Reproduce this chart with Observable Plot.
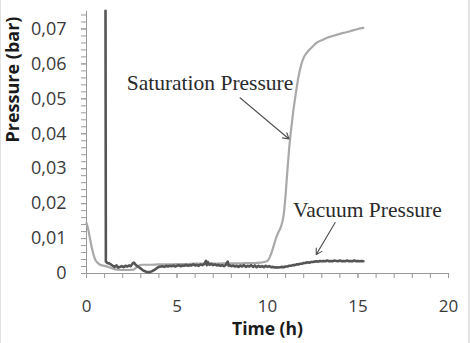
<!DOCTYPE html>
<html>
<head>
<meta charset="utf-8">
<script src="https://cdn.jsdelivr.net/npm/d3@7"></script>
<script src="https://cdn.jsdelivr.net/npm/@observablehq/plot@0.6"></script>
<style>
  html, body { margin: 0; padding: 0; background: #fff; }
  #wrap { position: relative; width: 470px; height: 343px; box-shadow: inset 1px 0 #e2e2e2, inset -2px 0 #e2e2e2; }
</style>
</head>
<body>
<div id="wrap"></div>
<script>
// Saturation pressure (light gray curve)
const satTime = [0,0.1,0.2,0.3,0.4,0.5,0.65,0.8,1.0,1.2,1.4,1.6,1.8,2.0,2.3,2.6,2.75,2.9,3.1,3.5,4,4.5,5,5.5,6,6.5,7,7.5,8,8.5,9,9.3,9.6,9.8,10.0,10.15,10.3,10.45,10.6,10.75,10.9,11.0,11.1,11.2,11.3,11.4,11.55,11.7,11.85,12.0,12.25,12.5,12.7,13.0,13.3,13.6,14.0,14.3,14.6,15.0,15.3];
const satPressure = [0.0145,0.0125,0.0098,0.0072,0.0052,0.0038,0.0029,0.0024,0.0022,0.0019,0.0015,0.0012,0.0011,0.0010,0.0010,0.0011,0.0017,0.0023,0.0025,0.0025,0.0026,0.0026,0.0027,0.0027,0.0028,0.0028,0.0028,0.0029,0.0029,0.0029,0.0030,0.0030,0.0031,0.0033,0.0036,0.0050,0.0072,0.0098,0.0118,0.0135,0.0170,0.0225,0.0295,0.0360,0.0410,0.0455,0.0510,0.0560,0.0595,0.0618,0.0637,0.0650,0.0660,0.0668,0.0675,0.0680,0.0686,0.0690,0.0694,0.0700,0.0703];

// Vacuum pressure (dark gray noisy curve, with the spike at start)
const vacTime = [1.05,1.07,1.15,1.25,1.35,1.45,1.55,1.65,1.75,1.85,1.95,2.05,2.15,2.25,2.35,2.45,2.55,2.62,2.7,2.8,2.9,3.0,3.1,3.2,3.3,3.4,3.5,3.6,3.7,3.8,3.9,4.0,4.1,4.2,4.3,4.4,4.5,4.6,4.7,4.8,4.9,5.0,5.1,5.2,5.3,5.4,5.5,5.6,5.7,5.8,5.9,6.0,6.1,6.2,6.3,6.4,6.5,6.6,6.65,6.7,6.8,6.9,7.0,7.1,7.2,7.3,7.4,7.5,7.6,7.7,7.8,7.85,7.9,8.0,8.1,8.2,8.3,8.4,8.5,8.6,8.7,8.8,8.9,9.0,9.1,9.2,9.3,9.4,9.5,9.6,9.7,9.8,9.9,10.0,10.1,10.2,10.3,10.4,10.5,10.6,10.7,10.8,10.9,11.0,11.1,11.2,11.3,11.4,11.5,11.6,11.7,11.8,11.9,12.0,12.1,12.2,12.3,12.4,12.5,12.6,12.7,12.8,12.9,13.0,13.1,13.2,13.3,13.4,13.5,13.6,13.7,13.8,13.9,14.0,14.1,14.2,14.3,14.4,14.5,14.6,14.7,14.8,14.9,15.0,15.1,15.2,15.3];
const vacPressure = [0.0752,0.0034,0.0030,0.0029,0.0026,0.0022,0.0019,0.0023,0.0017,0.0019,0.0021,0.0018,0.0022,0.0020,0.0023,0.0021,0.0029,0.0031,0.0026,0.0021,0.0018,0.0014,0.0010,0.0007,0.0005,0.0004,0.0004,0.0006,0.0009,0.0012,0.0016,0.0019,0.0020,0.0021,0.0019,0.0022,0.0020,0.0022,0.0021,0.0023,0.0020,0.0022,0.0024,0.0021,0.0023,0.0022,0.0025,0.0022,0.0024,0.0023,0.0026,0.0023,0.0025,0.0022,0.0026,0.0024,0.0027,0.0036,0.0024,0.0033,0.0025,0.0028,0.0024,0.0026,0.0023,0.0025,0.0022,0.0024,0.0021,0.0025,0.0034,0.0022,0.0024,0.0021,0.0023,0.0020,0.0022,0.0019,0.0023,0.0020,0.0024,0.0019,0.0022,0.0020,0.0024,0.0019,0.0023,0.0018,0.0022,0.0019,0.0021,0.0018,0.0022,0.0019,0.0021,0.0018,0.0019,0.0017,0.0018,0.0017,0.0018,0.0019,0.0018,0.0020,0.0020,0.0022,0.0022,0.0024,0.0024,0.0026,0.0026,0.0028,0.0028,0.0030,0.0030,0.0032,0.0031,0.0033,0.0033,0.0034,0.0035,0.0034,0.0036,0.0035,0.0036,0.0035,0.0037,0.0035,0.0036,0.0035,0.0037,0.0036,0.0035,0.0037,0.0035,0.0036,0.0035,0.0037,0.0035,0.0036,0.0035,0.0037,0.0035,0.0036,0.0035,0.0036,0.0035];

// Axis ticks
const xMajorTicks = [0, 5, 10, 15, 20];
const xMinorTicks = [0,1,2,3,4,5,6,7,8,9,10,11,12,13,14,15,16,17,18,19,20];
const yMajorTicks = [0, 0.01, 0.02, 0.03, 0.04, 0.05, 0.06, 0.07];
const yMinorTicks = [0,0.002,0.004,0.006,0.008,0.010,0.012,0.014,0.016,0.018,0.020,0.022,0.024,0.026,0.028,0.030,0.032,0.034,0.036,0.038,0.040,0.042,0.044,0.046,0.048,0.050,0.052,0.054,0.056,0.058,0.060,0.062,0.064,0.066,0.068,0.070,0.072,0.074];

// Annotations (data units)
const labelText = ["Saturation Pressure", "Vacuum Pressure"];
const labelX = [2.22, 11.41];
const labelY = [0.0545, 0.0182];
const arrowX1 = [8.48, 13.74];
const arrowY1 = [0.0503, 0.0146];
const arrowX2 = [11.19, 12.69];
const arrowY2 = [0.0385, 0.0054];

const sat = satTime.map((t, i) => ({t, p: satPressure[i]}));
const vac = vacTime.map((t, i) => ({t, p: vacPressure[i]}));
const labels = labelText.map((text, i) => ({text, x: labelX[i], y: labelY[i]}));
const arrows = arrowX1.map((x1, i) => ({x1, y1: arrowY1[i], x2: arrowX2[i], y2: arrowY2[i]}));

const fmtY = d => d === 0 ? "0" : d.toFixed(2).replace(".", ",");
const axisFont = "'Open Sans', sans-serif";

const chart = Plot.plot({
  width: 470,
  height: 343,
  marginLeft: 86,
  marginRight: 22,
  marginTop: 11,
  marginBottom: 70,
  style: {background: "transparent", fontFamily: axisFont, overflow: "visible"},
  x: {domain: [0, 20], label: null},
  y: {domain: [0, 0.075], label: null},
  marks: [
    Plot.axisX({ticks: xMinorTicks, tickSize: 5, tickFormat: () => "", stroke: "#9a9a9a"}),
    Plot.axisX({ticks: xMajorTicks, tickSize: 5, tickPadding: 21, tickFormat: d => String(d),
      fontSize: 17, fill: "#3a3a3a", stroke: "#9a9a9a"}),
    Plot.axisY({ticks: yMinorTicks, tickSize: 5, tickFormat: () => "", stroke: "#9a9a9a"}),
    Plot.axisY({ticks: yMajorTicks, tickSize: 5, tickPadding: 15, tickFormat: fmtY,
      fontSize: 18, fill: "#3a3a3a", stroke: "#9a9a9a"}),
    Plot.ruleY([0], {stroke: "#9a9a9a", strokeWidth: 1}),
    Plot.ruleX([0], {stroke: "#9a9a9a", strokeWidth: 1}),
    Plot.line(sat, {x: "t", y: "p", stroke: "#a9a9a9", strokeWidth: 2.2, curve: "monotone-x"}),
    Plot.line(vac, {x: "t", y: "p", stroke: "#555555", strokeWidth: 2.6, strokeLinejoin: "round"}),
    Plot.arrow(arrows, {x1: "x1", y1: "y1", x2: "x2", y2: "y2", stroke: "#505050", strokeWidth: 1.1, headLength: 9, bend: 0}),
    Plot.text(labels, {x: "x", y: "y", text: "text", textAnchor: "start", fontSize: 21.5,
      fontFamily: "'Liberation Serif', 'Times New Roman', serif", fill: "#2a2a2a"}),
    Plot.text(["Time (h)"], {frameAnchor: "bottom", dy: 61, text: d => d, fontSize: 17.5, fontWeight: "bold",
      fill: "#1a1a1a", fontFamily: axisFont}),
    Plot.text(["Pressure (bar)"], {frameAnchor: "left", dx: -73, rotate: -90, text: d => d, fontSize: 18,
      fontWeight: "bold", fill: "#1a1a1a", fontFamily: axisFont})
  ]
});
document.getElementById("wrap").appendChild(chart);
</script>
</body>
</html>
